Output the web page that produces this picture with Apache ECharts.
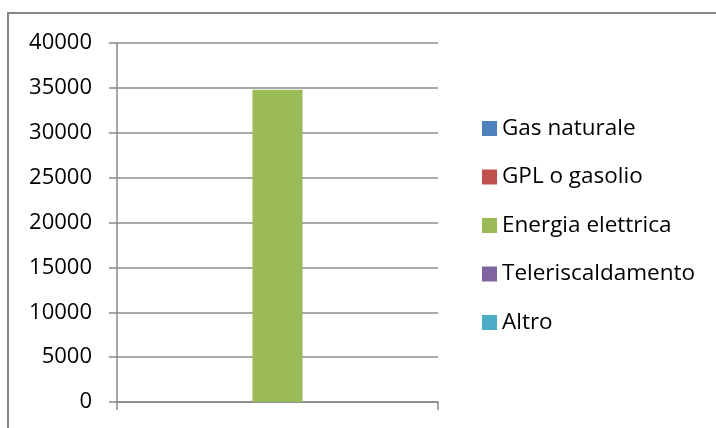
<!DOCTYPE html>
<html>
<head>
<meta charset="utf-8">
<script src="https://cdn.jsdelivr.net/npm/echarts@6/dist/echarts.min.js"></script>
<style>
html,body{margin:0;padding:0;background:#fff;}
#chart{width:716px;height:428px;}
</style>
</head>
<body>
<div id="chart"></div>
<script>
var categories = [''];
var seriesNames = ['Gas naturale', 'GPL o gasolio', 'Energia elettrica', 'Teleriscaldamento', 'Altro'];
var seriesValues = [0, 0, 34800, 0, 0];
var seriesColors = ['#4F81BD', '#C0504D', '#9BBB59', '#8064A2', '#4BACC6'];
var yTicks = { min: 0, max: 40000, interval: 5000 };

var FONT = '"Open Sans", sans-serif';
var chart = echarts.init(document.getElementById('chart'), null, { renderer: 'canvas' });

var series = seriesNames.map(function (name, i) {
  return {
    name: name,
    type: 'bar',
    data: [seriesValues[i]],
    barGap: '0%',
    barCategoryGap: '22%',
    itemStyle: { color: seriesColors[i] },
    animation: false
  };
});

chart.setOption({
  animation: false,
  backgroundColor: '#fff',
  graphic: [{
    type: 'rect',
    shape: { x: 8, y: 13, width: 730, height: 440 },
    style: { fill: 'none', stroke: '#868686', lineWidth: 2 },
    silent: true
  }],
  grid: { left: 117, top: 43, width: 321, height: 359, containLabel: false },
  xAxis: {
    type: 'category',
    data: categories,
    axisLine: { show: true, lineStyle: { color: '#888', width: 1.5 } },
    axisTick: { show: true, length: 8, alignWithLabel: false, lineStyle: { color: '#888', width: 1.5 } },
    axisLabel: { show: false },
    splitLine: { show: false }
  },
  yAxis: {
    type: 'value',
    min: yTicks.min,
    max: yTicks.max,
    interval: yTicks.interval,
    axisLine: { show: true, lineStyle: { color: '#888', width: 1.5 } },
    axisTick: { show: true, length: 8, lineStyle: { color: '#888', width: 1.5 } },
    axisLabel: { color: '#000', fontFamily: FONT, fontSize: 22, margin: 25, formatter: function (v) { return String(v); } },
    splitLine: { show: true, lineStyle: { color: '#8c8c8c', width: 1.5 } }
  },
  legend: {
    orient: 'vertical',
    left: 477,
    top: 112,
    itemWidth: 15,
    itemHeight: 15,
    itemGap: 25.5,
    icon: 'rect',
    data: seriesNames,
    textStyle: { color: '#000', fontFamily: FONT, fontSize: 22.5, lineHeight: 21 }
  },
  series: series
});
</script>
</body>
</html>
